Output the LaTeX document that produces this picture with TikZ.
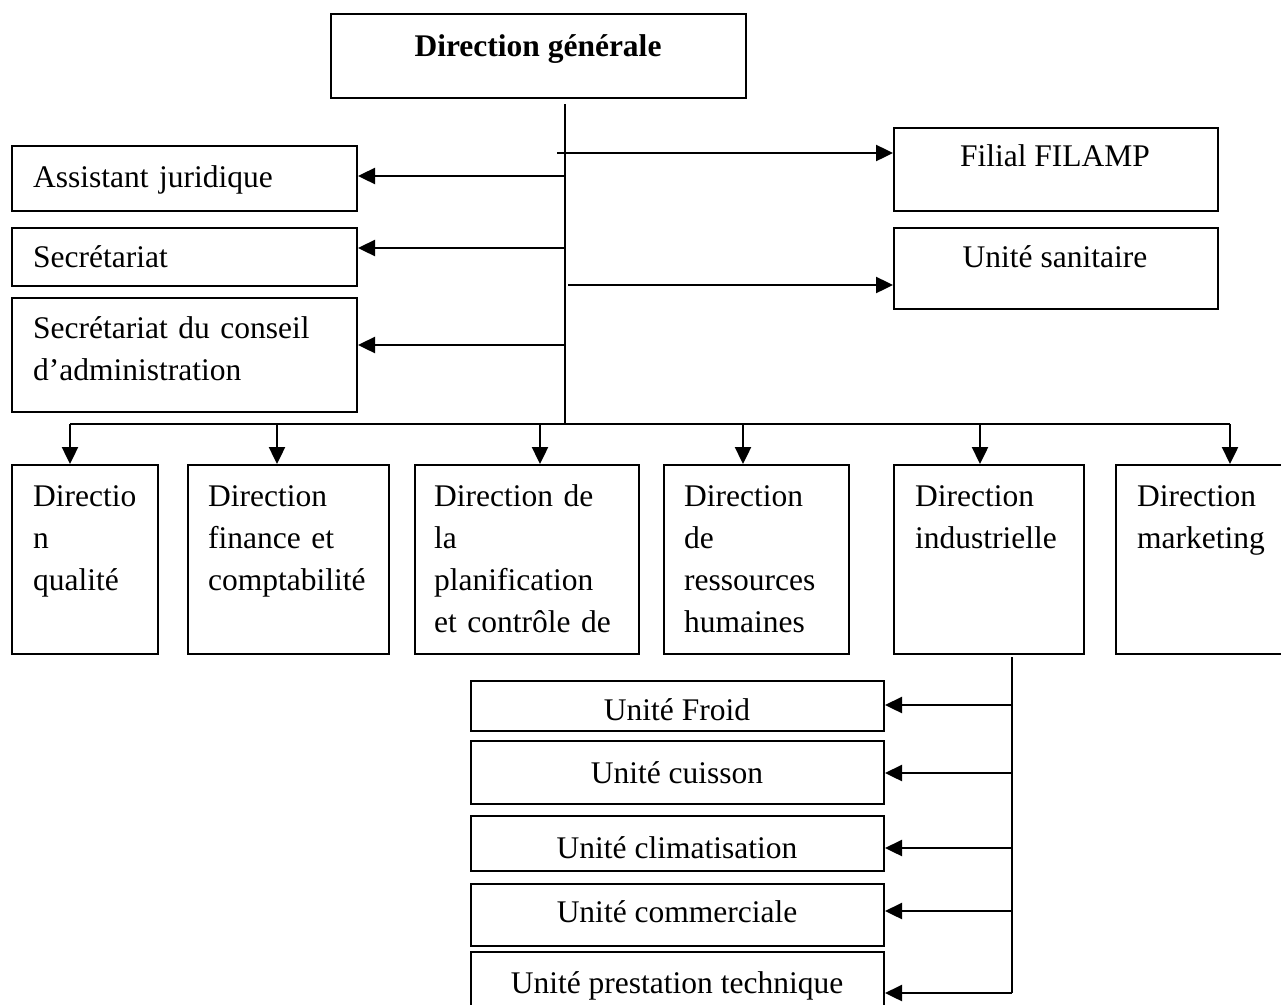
\documentclass[tikz,border=0pt]{standalone}
\usepackage{fontspec}
\setmainfont{Liberation Serif}
\usetikzlibrary{arrows.meta}
\begin{document}
\begin{tikzpicture}[x=1pt,y=-1pt,
  box/.style={draw, line width=2pt, rectangle, inner sep=0pt, anchor=north west},
  lbl/.style={font=\fontsize{31.5}{42}\selectfont, inner sep=0pt},
  txtleft/.style={lbl, anchor=base west, text width=320pt, align=left},
  txtmid/.style={lbl, anchor=base},
  link/.style={line width=2.4pt},
  arr/.style={link, -{Triangle[length=17pt,width=16pt]}}]
\useasboundingbox (0,0) rectangle (1281,1004);
\clip (0,0) rectangle (1281,1004);

% General management
\node[box, minimum width=415pt, minimum height=84pt] (dg) at (330,13) {};
\node[txtmid, font=\fontsize{31.5}{42}\selectfont\bfseries] (dgt) at (538,56) {Direction générale};

% Staff units on the left
\node[box, minimum width=345pt, minimum height=65pt] (aj) at (11,145) {};
\node[txtleft] (ajt) at (33,187) {Assistant juridique};
\node[box, minimum width=345pt, minimum height=58pt] (sec) at (11,227) {};
\node[txtleft] (sect) at (33,267) {Secrétariat};
\node[box, minimum width=345pt, minimum height=114pt] (sca) at (11,297) {};
\node[txtleft] (scat) at (33,338) {Secrétariat du conseil\\d’administration};

% Units on the right
\node[box, minimum width=324pt, minimum height=83pt] (fil) at (893,127) {};
\node[txtmid] (filt) at (1055,166) {Filial FILAMP};
\node[box, minimum width=324pt, minimum height=81pt] (san) at (893,227) {};
\node[txtmid] (sant) at (1055,267) {Unité sanitaire};

% Main trunk and bus
\coordinate (top) at (565,104);
\coordinate (bus) at (565,424);
\draw[link] (top) -- (bus);

\coordinate (a1) at (565,176);
\coordinate (a2) at (565,248);
\coordinate (a3) at (565,345);
\draw[arr] (a1) -- (a1 -| aj.east);
\draw[arr] (a2) -- (a2 -| sec.east);
\draw[arr] (a3) -- (a3 -| sca.east);

\coordinate (b1) at (557,153);
\coordinate (b2) at (568,285);
\draw[arr] (b1) -- (b1 -| fil.west);
\draw[arr] (b2) -- (b2 -| san.west);

% Directorates
\foreach \n/\x/\w/\d in {q/11/146/70, f/187/201/277, p/414/224/540, r/663/185/743, i/893/190/980, m/1115/185/1230} {
  \node[box, minimum width=\w pt, minimum height=189pt] (\n) at (\x,464) {};
  \coordinate (d\n) at (\d,424);
  \draw[arr] (d\n) -- (d\n |- \n.north);
}
\draw[link] (dq) -- (dm);

\node[txtleft] (qt) at (33,506) {Directio\\n\\qualité};
\node[txtleft] (ft) at (208,506) {Direction\\finance et\\comptabilité};
\node[txtleft] (pt) at (434,506) {Direction de\\la\\planification\\et contrôle de};
\node[txtleft] (rt) at (684,506) {Direction\\de\\ressources\\humaines};
\node[txtleft] (it) at (915,506) {Direction\\industrielle};
\node[txtleft] (mt) at (1137,506) {Direction\\marketing};

% Industrial units
\node[box, minimum width=413pt, minimum height=50pt] (u1) at (470,680) {};
\node[txtmid] (u1t) at (677,720) {Unité Froid};
\node[box, minimum width=413pt, minimum height=63pt] (u2) at (470,740) {};
\node[txtmid] (u2t) at (677,783) {Unité cuisson};
\node[box, minimum width=413pt, minimum height=55pt] (u3) at (470,815) {};
\node[txtmid] (u3t) at (677,858) {Unité climatisation};
\node[box, minimum width=413pt, minimum height=62pt] (u4) at (470,883) {};
\node[txtmid] (u4t) at (677,922) {Unité commerciale};
\node[box, minimum width=413pt, minimum height=62pt] (u5) at (470,951) {};
\node[txtmid] (u5t) at (677,993) {Unité prestation technique};

\coordinate (i0) at (1012,657);
\coordinate (i5) at (1012,993);
\draw[link] (i0) -- (i5);
\foreach \k/\y in {1/705, 2/773, 3/848, 4/911, 5/993} {
  \coordinate (c\k) at (1012,\y);
  \draw[arr] (c\k) -- (c\k -| u\k.east);
}
\end{tikzpicture}
\end{document}
